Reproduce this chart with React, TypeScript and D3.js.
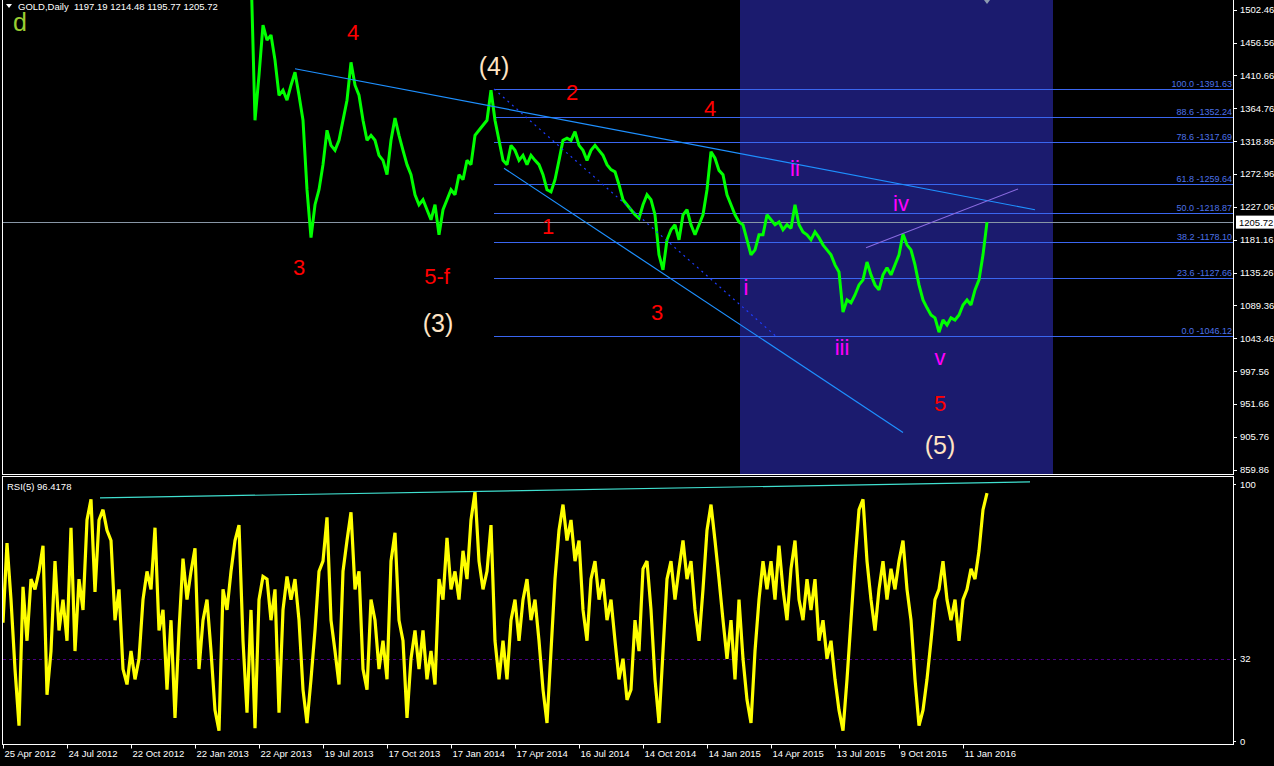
import React from 'react';
import * as d3 from 'd3';

const W = 1274;
const H = 766;

// ---------- data ----------
const headerText = 'GOLD,Daily  1197.19 1214.48 1195.77 1205.72';
const rsiHeaderText = 'RSI(5) 96.4178';
const priceTicks = [1502.46, 1456.56, 1410.66, 1364.76, 1318.86, 1272.96, 1227.06, 1181.16, 1135.26, 1089.36, 1043.46, 997.56, 951.66, 905.76, 859.86];
const rsiTicks = [100, 32, 0];
const rsiLevel = 32;
const dateLabels = ['25 Apr 2012', '24 Jul 2012', '22 Oct 2012', '22 Jan 2013', '22 Apr 2013', '19 Jul 2013', '17 Oct 2013', '17 Jan 2014', '17 Apr 2014', '16 Jul 2014', '14 Oct 2014', '14 Jan 2015', '14 Apr 2015', '13 Jul 2015', '9 Oct 2015', '11 Jan 2016'];
const barsPerDateLabel = 64;

// daily closes (every 4th bar) starting at bar 248
const priceStart = 248;
const priceStride = 4;
const closes = [
  1558, 1348, 1411, 1481, 1460, 1467, 1432, 1383, 1390, 1376,
  1397, 1415, 1383, 1348, 1251, 1184, 1230, 1251, 1286, 1334,
  1313, 1306, 1320, 1348, 1376, 1429, 1397, 1383, 1348, 1320,
  1327, 1320, 1299, 1292, 1272, 1320, 1351, 1327, 1306, 1286,
  1272, 1244, 1230, 1237, 1223, 1209, 1230, 1188, 1223, 1237,
  1251, 1244, 1272, 1265, 1292, 1286, 1327, 1334, 1341, 1348,
  1390, 1348, 1320, 1292, 1286, 1313, 1306, 1292, 1299, 1286,
  1299, 1292, 1286, 1272, 1251, 1248, 1265, 1292, 1320, 1323,
  1320, 1332, 1313, 1306, 1292, 1306, 1313, 1306, 1299, 1286,
  1279, 1276, 1258, 1237, 1230, 1223, 1216, 1211, 1230, 1244,
  1237, 1216, 1160, 1139, 1181, 1195, 1202, 1181, 1216, 1223,
  1202, 1188, 1202, 1216, 1251, 1304, 1295, 1278, 1272, 1244,
  1230, 1216, 1206, 1202, 1181, 1160, 1167, 1188, 1188, 1216,
  1209, 1202, 1206, 1195, 1202, 1197, 1230, 1202, 1192, 1188,
  1181, 1192, 1184, 1174, 1167, 1160, 1146, 1136, 1080, 1097,
  1093, 1104, 1118, 1125, 1150, 1132, 1118, 1111, 1132, 1142,
  1132, 1146, 1160, 1189, 1174, 1167, 1146, 1118, 1097, 1086,
  1076, 1072, 1052, 1069, 1062, 1072, 1069, 1076, 1090, 1097,
  1090, 1111, 1125, 1160, 1205.72,
];

// RSI(5) (every 4th bar) starting at bar 0
const rsiStart = 0;
const rsiStride = 4;
const rsiValues = [
  46, 77, 55, 28, 6, 60, 39, 63, 59, 66,
  76, 18, 35, 70, 43, 55, 39, 83, 35, 63,
  51, 86, 94, 58, 86, 90, 82, 78, 47, 59,
  28, 22, 35, 24, 32, 55, 66, 59, 83, 43,
  51, 20, 47, 9, 43, 71, 55, 66, 75, 28,
  47, 55, 35, 12, 4, 59, 51, 66, 78, 84,
  39, 11, 51, 5, 55, 64, 63, 47, 59, 11,
  51, 64, 55, 63, 47, 20, 7, 24, 43, 66,
  70, 87, 47, 35, 22, 66, 78, 89, 59, 66,
  28, 20, 55, 47, 28, 39, 24, 70, 81, 47,
  39, 9, 32, 43, 28, 43, 24, 35, 22, 63,
  55, 79, 59, 66, 55, 74, 63, 86, 97, 70,
  59, 66, 84, 39, 24,
  39, 24, 47, 55, 39, 55, 63, 47, 55, 39,
  20, 7, 35, 63, 82, 92, 78, 86, 70, 78,
  51, 39, 63, 70, 55, 63, 47, 55, 39, 24,
  32, 16, 20, 47, 35, 67, 70, 51, 24, 7,
  35, 63, 70, 55, 67, 78, 63, 70, 51, 39,
  59, 82, 92, 78, 63, 47, 32, 47, 24, 55,
  32, 16, 7, 35, 55, 70, 59, 70, 55, 76,
  59, 47, 67, 78, 55, 47, 63, 51, 63, 39,
  47, 32, 39, 24, 12, 4, 24, 47, 70, 90,
  94, 70, 55, 43, 59, 70, 55, 67, 59, 70,
  78, 59, 47, 24, 6, 12, 24, 39, 55, 59,
  70, 55, 47, 55, 39, 55, 59, 67, 63, 74,
  90, 96.4178,
];

const lastPrice = 1205.72;
const fibLevels = [100.0, 88.6, 78.6, 61.8, 50.0, 38.2, 23.6, 0.0];
const fibPrices = [1391.63, 1352.24, 1317.69, 1259.64, 1218.87, 1178.1, 1127.66, 1046.12];
const fibStartBar = 491;
const zoneBars = [737, 1050];

// trendlines: [bar, price] pairs
const upperChannel = [[292, 1420], [1032, 1223]];
const lowerChannel = [[501, 1281], [900, 912]];
const dottedLine = [[491, 1391.63], [774, 1045]];
const purpleLine = [[863, 1170], [1015, 1252]];
const rsiTrend = [[97, 94.6], [1027, 100.8]];

// wave labels: [text, bar, price]
const redLabels = [['3', 296, 1142], ['4', 350, 1470], ['5-f', 434, 1130], ['1', 545, 1200], ['2', 569, 1387], ['3', 654, 1079], ['4', 707, 1364], ['5', 937, 953]];
const bisqueLabels = [['(4)', 491, 1424], ['(3)', 435, 1065], ['(5)', 937, 894]];
const magentaLabels = [['i', 743, 1114], ['ii', 792, 1281], ['iii', 839, 1030], ['iv', 898, 1232], ['v', 937, 1016]];

// ---------- layout ----------
const plotLeft = 3;
const plotRight = 1233;
const mainTop = 0;
const mainBottom = 474.5;
const rsiTop = 476.5;
const rsiBottom = 744.5;
const FONT = '"Liberation Sans", Arial, sans-serif';

export default function App() {
  const x = d3.scaleLinear().domain([0, 1230]).range([plotLeft, plotRight]);
  const py = d3.scaleLinear().domain([859.86, 1502.46]).range([469.7, 9.7]);
  const ry = d3.scaleLinear().domain([0, 100]).range([741, 484]);

  const priceLine = d3.line<number>()
    .x((_, i) => x(priceStart + i * priceStride))
    .y((d) => py(d));
  const rsiLine = d3.line<number>()
    .x((_, i) => x(rsiStart + i * rsiStride))
    .y((d) => ry(d));

  const seg = (pts: number[][], yS: (v: number) => number) => ({
    x1: x(pts[0][0]), y1: yS(pts[0][1]), x2: x(pts[1][0]), y2: yS(pts[1][1]),
  });

  const lastX = x(priceStart + (closes.length - 1) * priceStride);

  return (
    <svg width={W} height={H} style={{ position: 'absolute', left: 0, top: 0, display: 'block', background: '#000' }}>
      <defs>
        <clipPath id="mainClip">
          <rect x={plotLeft} y={mainTop} width={plotRight - plotLeft} height={mainBottom - mainTop} />
        </clipPath>
        <clipPath id="rsiClip">
          <rect x={plotLeft} y={rsiTop} width={plotRight - plotLeft} height={rsiBottom - rsiTop} />
        </clipPath>
      </defs>
      <rect x={0} y={0} width={W} height={H} fill="#000" />

      {/* main panel */}
      <g clipPath="url(#mainClip)">
        <rect x={x(zoneBars[0])} y={mainTop} width={x(zoneBars[1]) - x(zoneBars[0])} height={mainBottom - mainTop} fill="#1B1B6E" />
        {fibPrices.map((p, i) => (
          <g key={'fib' + i}>
            <line x1={x(fibStartBar)} x2={plotRight} y1={Math.round(py(p)) + 0.5} y2={Math.round(py(p)) + 0.5} stroke="#3A66F0" strokeWidth={1} />
            <text x={plotRight - 1} y={Math.round(py(p)) - 2} textAnchor="end" fontFamily={FONT} fontSize={9} fill="#4C72E8">
              {`${fibLevels[i].toFixed(1)} -${p.toFixed(2)}`}
            </text>
          </g>
        ))}
        <line x1={plotLeft} x2={plotRight} y1={Math.round(py(lastPrice)) + 0.5} y2={Math.round(py(lastPrice)) + 0.5} stroke="#8896A6" strokeWidth={1} />
        <path d={priceLine(closes) || ''} fill="none" stroke="#00FF00" strokeWidth={3} strokeLinejoin="miter" strokeMiterlimit={2} />
        <line {...seg(upperChannel, py)} stroke="#1E90FF" strokeWidth={1.2} />
        <line {...seg(lowerChannel, py)} stroke="#1E90FF" strokeWidth={1.2} />
        <line {...seg(dottedLine, py)} stroke="#1E3CFF" strokeWidth={1.2} strokeDasharray="2,4" />
        <line {...seg(purpleLine, py)} stroke="#8A6BE0" strokeWidth={1.1} />
        <path d={`M${lastX - 3},0 L${lastX + 3},0 L${lastX},4 Z`} fill="#8C9BB0" />
        {redLabels.map(([t, b, p], i) => (
          <text key={'r' + i} x={x(b as number)} y={py(p as number)} textAnchor="middle" dominantBaseline="central" fontFamily={FONT} fontSize={22} fill="#FF0000">{t}</text>
        ))}
        {bisqueLabels.map(([t, b, p], i) => (
          <text key={'b' + i} x={x(b as number)} y={py(p as number)} textAnchor="middle" dominantBaseline="central" fontFamily={FONT} fontSize={25} fill="#FFE4C4">{t}</text>
        ))}
        {magentaLabels.map(([t, b, p], i) => (
          <text key={'m' + i} x={x(b as number)} y={py(p as number)} textAnchor="middle" dominantBaseline="central" fontFamily={FONT} fontSize={22} fill="#FF00FF">{t}</text>
        ))}
      </g>

      {/* header */}
      <path d="M6,4 L12,4 L9,8 Z" fill="#FFFFFF" />
      <text x={18} y={9.5} fontFamily={FONT} fontSize={9.5} fill="#FFFFFF" style={{ whiteSpace: 'pre' }}>{headerText}</text>
      <text x={13} y={31} fontFamily={FONT} fontSize={25} fill="#9ACD32">d</text>

      {/* RSI panel */}
      <g clipPath="url(#rsiClip)">
        <line x1={plotLeft} x2={plotRight} y1={Math.round(ry(rsiLevel)) + 0.5} y2={Math.round(ry(rsiLevel)) + 0.5} stroke="#4B0082" strokeWidth={1} strokeDasharray="3,3" />
        <path d={rsiLine(rsiValues) || ''} fill="none" stroke="#FFFF00" strokeWidth={3.2} strokeLinejoin="miter" strokeMiterlimit={3} />
        <line {...seg(rsiTrend, ry)} stroke="#40E0D0" strokeWidth={1.2} />
      </g>
      <text x={7} y={490} fontFamily={FONT} fontSize={9.5} fill="#FFFFFF">{rsiHeaderText}</text>

      {/* frames */}
      <rect x={2.5} y={-1} width={plotRight - 2} height={mainBottom + 1} fill="none" stroke="#FFFFFF" strokeWidth={1} />
      <rect x={2.5} y={rsiTop} width={plotRight - 2} height={rsiBottom - rsiTop} fill="none" stroke="#FFFFFF" strokeWidth={1} />

      {/* price axis */}
      {priceTicks.map((p, i) => (
        <g key={'pt' + i}>
          <line x1={plotRight} x2={plotRight + 4} y1={Math.round(py(p)) + 0.5} y2={Math.round(py(p)) + 0.5} stroke="#FFFFFF" />
          <text x={1240} y={py(p)} dominantBaseline="central" fontFamily={FONT} fontSize={9.5} fill="#FFFFFF">{p.toFixed(2)}</text>
        </g>
      ))}
      <rect x={1236} y={py(lastPrice) - 6.5} width={38} height={13} fill="#FFFFFF" />
      <text x={1239} y={py(lastPrice)} dominantBaseline="central" fontFamily={FONT} fontSize={9.5} fill="#000000">{lastPrice.toFixed(2)}</text>

      {/* rsi axis */}
      {rsiTicks.map((v, i) => (
        <g key={'rt' + i}>
          <line x1={plotRight} x2={plotRight + 3} y1={Math.round(ry(v)) + 0.5} y2={Math.round(ry(v)) + 0.5} stroke="#FFFFFF" />
          <text x={1240} y={ry(v)} dominantBaseline="central" fontFamily={FONT} fontSize={9.5} fill="#FFFFFF">{v}</text>
        </g>
      ))}

      {/* time axis */}
      {dateLabels.map((lab, i) => {
        const tx = Math.round(x(i * barsPerDateLabel)) + 0.5;
        return (
          <g key={'d' + i}>
            <line x1={tx} x2={tx} y1={rsiBottom} y2={rsiBottom + 4} stroke="#FFFFFF" />
            <text x={tx + 1} y={757} fontFamily={FONT} fontSize={9.5} fill="#FFFFFF">{lab}</text>
          </g>
        );
      })}
    </svg>
  );
}
